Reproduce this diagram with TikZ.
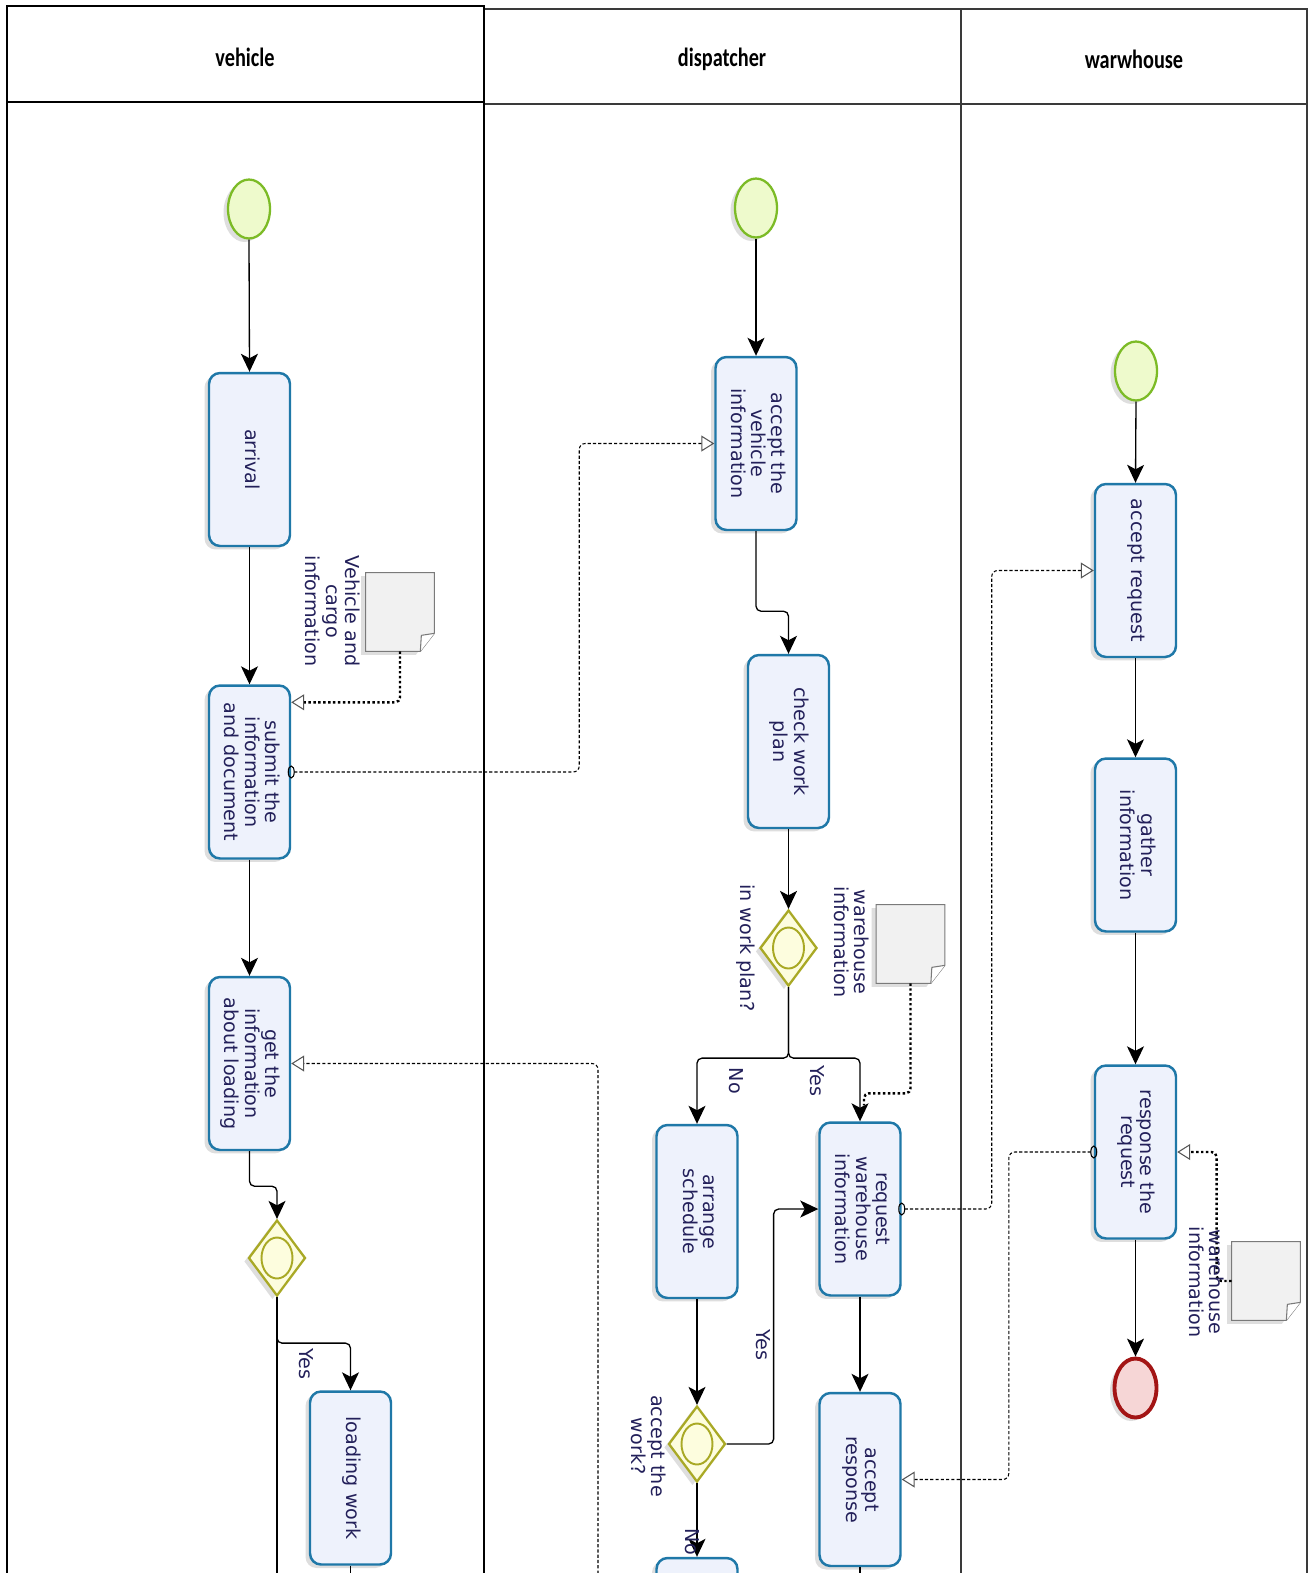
\documentclass[tikz,border=0pt]{standalone}
\usepackage{fontspec}
\setmainfont{DejaVu Sans}
\newfontfamily\headfont{Carlito}
\usetikzlibrary{arrows.meta,shapes.geometric,shadows,calc}

\definecolor{taskborder}{HTML}{1F78A8}
\definecolor{taskfill}{HTML}{EEF2FC}
\definecolor{txt}{HTML}{23205A}
\definecolor{startborder}{HTML}{7CBB26}
\definecolor{startfill}{HTML}{EEFACC}
\definecolor{endborder}{HTML}{A31515}
\definecolor{endfill}{HTML}{F6D6D6}
\definecolor{gwborder}{HTML}{A9A925}
\definecolor{gwfill}{HTML}{FDFDDE}
\definecolor{docborder}{HTML}{7A7A7A}
\definecolor{docfill}{HTML}{F1F1F1}
\definecolor{laneline}{HTML}{3A3A3A}
\definecolor{tipgray}{HTML}{555555}

% text running downwards, first line on the right
\newcommand\vtxt[1]{\rotatebox{-90}{\begin{tabular}{@{}c@{}}#1\end{tabular}}}

% data object outline with a folded lower-right corner
\newcommand\docshape[1]{%
  \draw[docline, softshadow] (#1.north west) -- (#1.north east)
     -- ($(#1.south east)+(0,-18)$) -- ($(#1.south east)+(-14,0)$)
     -- (#1.south west) -- cycle;
  \draw[docline, fill=white] ($(#1.south east)+(0,-18)$) -- ($(#1.south east)+(-13,-16)$)
     -- ($(#1.south east)+(-14,0)$);
}

\tikzset{
  x=0.02cm, y=-0.02cm,
  softshadow/.style={drop shadow={shadow xshift=-0.09cm, shadow yshift=-0.07cm, opacity=0.13, fill=black}},
  task/.style={rectangle, rounded corners=0.22cm, draw=taskborder, line width=1.4pt,
    fill=taskfill, minimum width=1.62cm, minimum height=3.46cm, inner sep=0pt,
    text=txt, font=\fontsize{10.9}{10.9}\selectfont, softshadow},
  startev/.style={ellipse, draw=startborder, line width=1.3pt, fill=startfill,
    minimum width=0.84cm, minimum height=1.18cm, inner sep=0pt, softshadow},
  endev/.style={ellipse, draw=endborder, line width=2.2pt, fill=endfill,
    minimum width=0.84cm, minimum height=1.18cm, inner sep=0pt, softshadow},
  gateway/.style={diamond, draw=gwborder, line width=1.3pt, fill=gwfill,
    minimum width=1.14cm, minimum height=1.52cm, inner sep=0pt, softshadow},
  gwring/.style={ellipse, draw=gwborder, line width=1.1pt, minimum width=0.62cm,
    minimum height=0.82cm, inner sep=0pt},
  docbox/.style={rectangle, minimum width=1.36cm, minimum height=1.56cm, inner sep=0pt},
  docline/.style={draw=docborder, line width=0.6pt, fill=docfill},
  lbl/.style={text=txt, font=\fontsize{10.9}{10.9}\selectfont, inner sep=0pt},
  headtxt/.style={font=\headfont\bfseries\fontsize{15}{17}\selectfont, xscale=0.77, inner sep=0pt},
  lane/.style={draw=black, line width=1.1pt},
  lanethin/.style={draw=laneline, line width=1pt},
  seqplain/.style={draw=black, line width=0.75pt, rounded corners=0.1cm},
  seq/.style={seqplain, -{Stealth[length=0.36cm, width=0.34cm, inset=0.09cm]}},
  msg/.style={draw=black, line width=0.6pt, dash pattern=on 1.8pt off 1.2pt,
    {Circle[open, length=0.14cm, width=0.26cm, line width=0.6pt]}-{Triangle[open, length=0.26cm, width=0.32cm, line width=0.6pt, color=tipgray]},
    shorten <=-0.07cm, rounded corners=0.12cm},
  msgin/.style={draw=black, line width=0.6pt, dash pattern=on 1.8pt off 1.2pt,
    -{Triangle[open, length=0.26cm, width=0.32cm, line width=0.6pt, color=tipgray]},
    rounded corners=0.12cm},
  assocplain/.style={draw=black, line width=1.4pt, dash pattern=on 1.4pt off 1.4pt, rounded corners=0.1cm},
  assoc/.style={assocplain, -{Triangle[open, length=0.26cm, width=0.32cm, line width=0.6pt, color=tipgray]}},
}

\begin{document}
\begin{tikzpicture}
\useasboundingbox (0,0) rectangle (1315,1573);
\clip (0,0) rectangle (1315,1573);
\fill[white] (0,0) rectangle (1315,1573);

% ---- lanes ----
\draw[lanethin] (484,9) -- (1307,9) -- (1307,1600);
\draw[lanethin] (484,104) -- (1307,104);
\draw[lanethin] (961,9) -- (961,1600);
\draw[lane] (7,1600) -- (7,6) -- (484,6) -- (484,1600);
\draw[lane] (7,102) -- (484,102);
\node[headtxt] (hv) at (245,57) {vehicle};
\node[headtxt] (hd) at (722,59) {dispatcher};
\node[headtxt] (hw) at (1134,59) {warwhouse};

% ---- vehicle ----
\node[startev] (vs) at (249,209) {};
\node[task] (arr) at (249.5,459.5) {\vtxt{arrival}};
\node[task] (sub) at (249.5,772) {\vtxt{submit the\\information\\and document}};
\node[task] (get) at (249.5,1063.5) {\vtxt{get the\\information\\about loading}};
\node[gateway] (gwv) at (277,1258) {};
\node[gwring] (gwvr) at (gwv) {};
\node[task] (load) at (350.5,1478) {\vtxt{loading work}};
\node[docbox] (doc1) at (400,612) {};
\docshape{doc1}
\node[lbl] (lab1) at (330,611) {\vtxt{Vehicle and\\cargo\\information}};
\node[lbl] (yes1) at (304,1364) {\vtxt{Yes}};
\coordinate (gwvout) at (277,1600);
\coordinate (loadout) at (350.5,1600);

% ---- dispatcher ----
\node[startev] (ds) at (756,208) {};
\node[task] (accv) at (756,443.5) {\vtxt{accept the\\vehicle\\information}};
\node[task] (chk) at (788.5,741.5) {\vtxt{check work\\plan}};
\node[gateway] (gw1) at (788.5,948) {};
\node[gwring] (gw1r) at (gw1) {};
\node[lbl] (lab2) at (745,948) {\vtxt{in work plan?}};
\node[docbox] (doc2) at (910.5,944) {};
\docshape{doc2}
\node[lbl] (lab3) at (849,942) {\vtxt{warehouse\\information}};
\node[task] (arrs) at (697,1211.5) {\vtxt{arrange\\schedule}};
\node[task] (req) at (860,1209) {\vtxt{request\\warehouse\\information}};
\node[gateway] (gw2) at (697,1444) {};
\node[gwring] (gw2r) at (gw2) {};
\node[lbl] (lab4) at (646,1446) {\vtxt{accept the\\work?}};
\node[task] (accresp) at (860,1479.5) {\vtxt{accept\\response}};
\node[task] (nxt) at (697,1644.5) {};
\node[lbl] (no1) at (734,1081) {\vtxt{No}};
\node[lbl] (yes2) at (815,1081) {\vtxt{Yes}};
\node[lbl] (yes3) at (761,1345) {\vtxt{Yes}};
\coordinate (accrespout) at (860,1600);
\coordinate (msgsrc) at (598,1600);

% ---- warehouse ----
\node[startev] (ws) at (1136,371) {};
\node[task] (accr) at (1135.5,570.5) {\vtxt{accept request}};
\node[task] (gath) at (1135.5,845) {\vtxt{gather\\information}};
\node[task] (resp) at (1135.5,1152) {\vtxt{response the\\request}};
\node[endev] (we) at (1135.5,1388) {};
\node[docbox] (doc3) at (1266,1281) {};
\docshape{doc3}

% ---- data associations ----
\draw[assoc] (doc1.south) |- ($(sub.north east)+(0,18)$);
\draw[assocplain] (doc2.south) -- ++(0,110) -| ($(req.north)+(4,-16)$);
\draw[assoc] (doc3.west) -- ++(-15,0) |- (resp.east);

% ---- message flows ----
\draw[msg] (sub.east) -- ++(288,0) |- (accv.west);
\draw[msg] (req.east) -- ++(90,0) |- (accr.west);
\draw[msg] (resp.west) -- ++(-85,0) |- (accresp.east);
\draw[msgin] (msgsrc) |- (get.east);

% ---- sequence flows ----
\draw[seq] (vs.south) -- (arr.north);
\draw[seq] (arr.south) -- (sub.north);
\draw[seq] (sub.south) -- (get.north);
\draw[seq] (get.south) -- ++(0,35) -| (gwv.north);
\draw[seq] (gwv.south) -- ++(0,46) -| (load.north);
\draw[seqplain] (gwv.south) -- (gwvout);
\draw[seqplain] (load.south) -- (loadout);

\draw[seq] (ds.south) -- (accv.north);
\draw[seq] (accv.south) -- ++(0,80) -| (chk.north);
\draw[seq] (chk.south) -- (gw1.north);
\draw[seq] (gw1.south) -- ++(0,71) -| (arrs.north);
\draw[seq] (gw1.south) -- ++(0,71) -| (req.north);
\draw[seq] (arrs.south) -- (gw2.north);
\draw[seq] (gw2.east) -- ++(47,0) |- (req.west);
\draw[seq] (gw2.south) -- (nxt.north);
\draw[seq] (req.south) -- (accresp.north);
\draw[seqplain] (accresp.south) -- (accrespout);

\draw[seq] (ws.south) -- (accr.north);
\draw[seq] (accr.south) -- (gath.north);
\draw[seq] (gath.south) -- (resp.north);
\draw[seq] (resp.south) -- (we.north);

% labels drawn over the lines
\node[lbl] (no2) at (690,1542) {\vtxt{No}};
\node[lbl] (lab5) at (1204,1282) {\vtxt{warehouse\\information}};
\end{tikzpicture}
\end{document}
